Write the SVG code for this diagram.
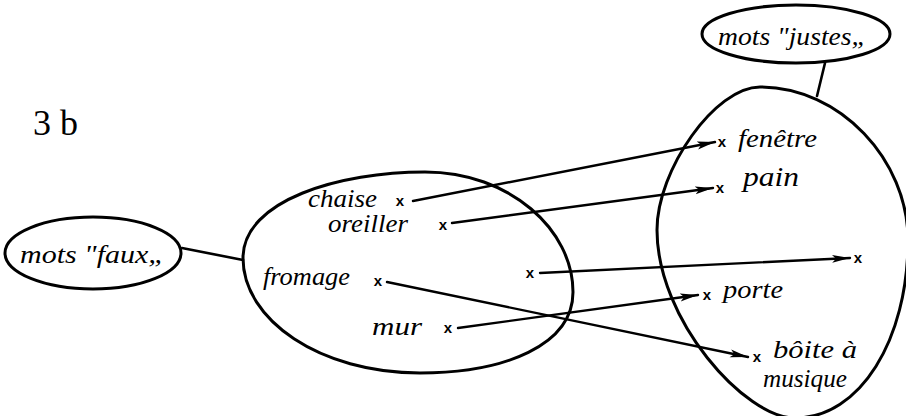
<svg xmlns="http://www.w3.org/2000/svg" width="906" height="416" viewBox="0 0 906 416">
<defs>
<style>
.shape{fill:none;stroke:#000;stroke-width:3;stroke-linejoin:round}
.link{fill:none;stroke:#000;stroke-width:2.6;stroke-linecap:round}
.arr{fill:none;stroke:#000;stroke-width:2.4;stroke-linecap:round;marker-end:url(#ah)}
.t{font-family:"Liberation Serif","DejaVu Serif",serif;font-style:italic;font-size:26px;fill:#000}
.x{font-family:"Liberation Sans","DejaVu Sans",sans-serif;font-weight:bold;font-size:15px;fill:#000;text-anchor:middle}
</style>
<marker id="ah" markerUnits="userSpaceOnUse" markerWidth="20" markerHeight="10" refX="18" refY="4.5" orient="auto">
<path d="M0,0.5 L18,4.5 L0,8.5 L4,4.5 Z" fill="#000"/>
</marker>
</defs>
<rect width="906" height="416" fill="#fff"/>
<text class="t" x="33" y="135" style="font-style:normal;font-size:36px">3 b</text>

<g id="faux">
<ellipse class="shape" cx="93" cy="253" rx="88" ry="36"/>
<text class="t" x="20" y="263" textLength="145" lengthAdjust="spacingAndGlyphs">mots "faux„</text>
</g>
<g id="justes">
<ellipse class="shape" cx="796" cy="34" rx="94" ry="29"/>
<text class="t" x="718" y="45" textLength="149" lengthAdjust="spacingAndGlyphs">mots "justes„</text>
</g>
<g id="set-left">
<path class="shape" d="M243 258 C243 200 340 172 425 172 C510 172 573 230 573 292 C573 345 505 373 420 373 C320 373 243 320 243 258 Z"/>
</g>
<g id="set-right">
<path class="shape" d="M760 87 C840 87 908 160 908 240 C908 340 860 418 795 418 C745 418 657 320 657 230 C657 170 715 87 760 87 Z"/>
</g>

<g id="chaise"><text class="t" x="308" y="207" textLength="69" lengthAdjust="spacingAndGlyphs">chaise</text><text class="x" x="400" y="206">x</text></g>
<g id="oreiller"><text class="t" x="328" y="232" textLength="80" lengthAdjust="spacingAndGlyphs">oreiller</text><text class="x" x="443" y="230">x</text></g>
<g id="fromage"><text class="t" x="263" y="285" textLength="87" lengthAdjust="spacingAndGlyphs">fromage</text><text class="x" x="378" y="286">x</text></g>
<g id="mur"><text class="t" x="372" y="335" textLength="50" lengthAdjust="spacingAndGlyphs">mur</text><text class="x" x="448" y="333">x</text></g>
<g id="blank-left"><text class="x" x="530" y="278">x</text></g>

<g id="fenetre"><text class="x" x="722" y="147">x</text><text class="t" x="738" y="147" textLength="79" lengthAdjust="spacingAndGlyphs">fenêtre</text></g>
<g id="pain"><text class="x" x="720" y="193">x</text><text class="t" x="743" y="186" style="font-size:28px" textLength="56" lengthAdjust="spacingAndGlyphs">pain</text></g>
<g id="blank-right"><text class="x" x="858" y="263">x</text></g>
<g id="porte"><text class="x" x="707" y="300">x</text><text class="t" x="723" y="298" textLength="60" lengthAdjust="spacingAndGlyphs">porte</text></g>
<g id="boite"><text class="x" x="757" y="362">x</text><text class="t" x="773" y="358" textLength="84" lengthAdjust="spacingAndGlyphs">bôite à</text><text class="t" x="763" y="387" style="font-size:25px" textLength="84" lengthAdjust="spacingAndGlyphs">musique</text></g>

<g id="connectors">
<line class="link" x1="182" y1="248" x2="243" y2="260"/>
<line class="link" x1="825" y1="63" x2="817" y2="96"/>
<line class="arr" x1="413" y1="201" x2="715" y2="142"/>
<line class="arr" x1="452" y1="223" x2="713" y2="188"/>
<line class="arr" x1="540" y1="273" x2="850" y2="258"/>
<line class="arr" x1="458" y1="328" x2="698" y2="295"/>
<line class="arr" x1="387" y1="282" x2="748" y2="357"/>
</g>
</svg>
